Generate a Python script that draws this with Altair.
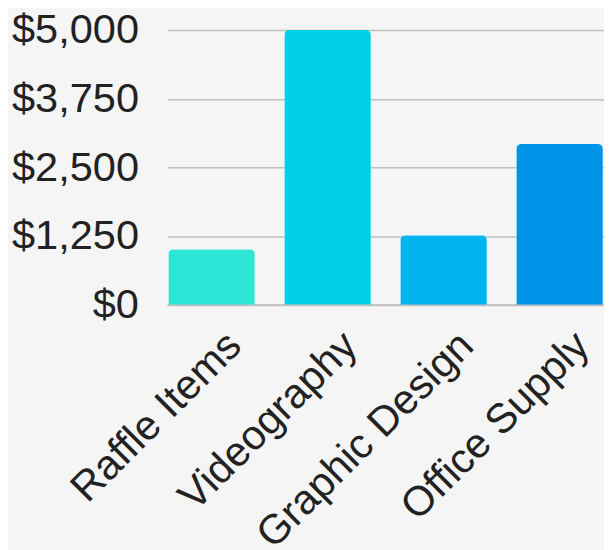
import altair as alt
import pandas as pd

categories = ["Raffle Items", "Videography", "Graphic Design", "Office Supply"]
amounts = [1010, 5000, 1265, 2925]
colors = ["#2ee6d6", "#00d0e8", "#00b4f0", "#0094e8"]
y_ticks = [0, 1250, 2500, 3750, 5000]

df = pd.DataFrame({"category": categories, "amount": amounts})

FONT = "Liberation Sans"

chart = alt.Chart(df).mark_bar(
    cornerRadiusTopLeft=5, cornerRadiusTopRight=5
).encode(
    x=alt.X("category:N", sort=categories,
            scale=alt.Scale(paddingInner=0.254, paddingOuter=0.01),
            axis=alt.Axis(title=None, labelAngle=-45, labelFontSize=42,
                          labelFont=FONT, labelColor="#222222",
                          ticks=False, domain=True, domainColor="#c0c0c0",
                          domainWidth=2, labelPadding=20, labelOffset=9,
                          grid=False, labelLimit=0)),
    y=alt.Y("amount:Q",
            scale=alt.Scale(domain=[0, 5000], nice=False),
            axis=alt.Axis(title=None, values=y_ticks, format="$,.0f",
                          labelFontSize=42, labelFont=FONT, labelColor="#222222",
                          ticks=False, domain=False, labelPadding=29,
                          gridColor="#c0c0c0", gridWidth=1.5)),
    color=alt.Color("category:N", scale=alt.Scale(domain=categories, range=colors),
                    legend=None),
).properties(
    width=442, height=278,
    background="#f5f5f5",
    padding={"left": 161, "top": 19, "right": 0, "bottom": 250},
    autosize=alt.AutoSizeParams(type="none"),
).configure_view(stroke=None)

chart.save("out.html", embed_options={"renderer": "svg", "actions": False})
